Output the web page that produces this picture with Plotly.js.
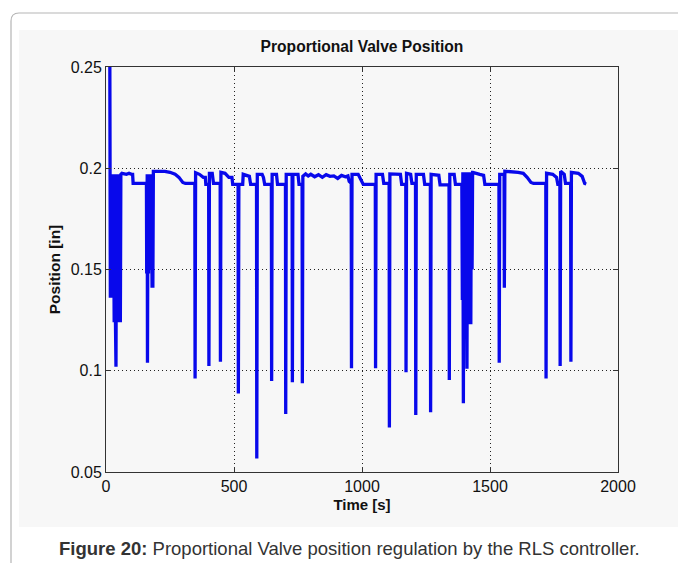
<!DOCTYPE html>
<html>
<head>
<meta charset="utf-8">
<script src="https://cdn.plot.ly/plotly-3.0.1.min.js"></script>
<style>
html,body{margin:0;padding:0;background:#fff;}
#chart{width:678px;height:563px;}
</style>
</head>
<body>
<div id="chart"></div>
<script>
// Time [s]
const timeS = [
15,17,19,22,24,27,29,32,34,37,39,41,44,46,49,51,54,56,58,
62,80,90,100,104,106,158,
159,161,162,164,166,168,170,172,175,177,180,182,183,185,
230,250,270,285,300,310,347,348,350,
365,380,388,390,401,402,404,
415,420,446,447,449,
465,480,492,495,516,517,519,
534,536,560,565,588,589,591,
610,615,620,646,647,649,
666,670,701,702,704,
727,728,730,
750,754,766,767,769,
780,790,800,815,830,845,860,875,890,905,920,935,945,950,958,959,961,
985,995,1005,1052,1053,1055,
1080,1085,1106,1107,1109,
1150,1155,1171,1172,1174,
1190,1195,1209,1210,1212,
1240,1245,1267,1268,1270,
1300,1305,1340,1341,1343,
1360,1365,1390,
1392,1394,1396,1398,1400,1402,1405,1407,1410,1412,1415,1417,1420,1422,1425,1427,1430,1432,
1433,1460,1475,1480,1535,1536,1538,
1555,1556,1558,
1610,1630,1645,1660,1670,1718,1719,1721,
1745,1760,1765,1773,1774,1776,
1790,1795,1815,1816,1818,
1845,1860,1870,1876
];
// Position [in]
const positionIn = [
0.25,0.136,0.197,0.136,0.197,0.140,0.197,0.124,0.197,0.124,0.102,0.197,0.124,0.197,0.124,0.197,0.157,0.124,0.197,
0.1975,0.197,0.1975,0.197,0.197,0.1925,0.1925,
0.148,0.197,0.104,0.197,0.148,0.197,0.150,0.197,0.168,0.197,0.141,0.197,0.141,0.1985,
0.1985,0.198,0.197,0.1955,0.193,0.1925,0.1925,0.0962,0.1978,
0.197,0.1955,0.1955,0.192,0.192,0.1023,0.1975,
0.1975,0.1925,0.1925,0.1045,0.198,
0.1975,0.1955,0.1955,0.192,0.192,0.0888,0.192,
0.192,0.197,0.196,0.192,0.192,0.0567,0.197,
0.197,0.1955,0.192,0.192,0.0949,0.197,
0.197,0.192,0.192,0.0786,0.197,
0.197,0.0943,0.197,
0.197,0.192,0.192,0.0938,0.196,
0.1972,0.1962,0.197,0.1958,0.1968,0.1955,0.1968,0.196,0.1962,0.195,0.1965,0.1958,0.1962,0.1935,0.1925,0.1012,0.197,
0.197,0.1945,0.192,0.192,0.1012,0.197,
0.197,0.1925,0.1925,0.072,0.1972,
0.197,0.192,0.192,0.0992,0.1975,
0.197,0.1925,0.1925,0.0781,0.197,
0.197,0.192,0.192,0.0795,0.197,
0.1965,0.1918,0.1918,0.0954,0.197,
0.197,0.192,0.192,
0.135,0.198,0.0839,0.198,0.130,0.198,0.140,0.198,0.101,0.198,0.130,0.198,0.123,0.198,0.123,0.198,0.150,0.198,
0.198,0.197,0.1965,0.192,0.192,0.104,0.197,
0.197,0.141,0.1985,
0.198,0.1975,0.1955,0.193,0.1925,0.1925,0.0962,0.1975,
0.197,0.1955,0.192,0.192,0.1023,0.1985,
0.197,0.1925,0.1925,0.1045,0.198,
0.1975,0.196,0.1925,0.1922
];
const xTicks = [0, 500, 1000, 1500, 2000];
const yTicks = [0.05, 0.1, 0.15, 0.2, 0.25];
const yTickText = ["0.05", "0.1", "0.15", "0.2", "0.25"];

const FONT = "Liberation Sans, Arial, Helvetica, sans-serif";
// plot area in pixels: x 106..618, y 67..472
const L = 106, R = 618, T = 67, B = 472;
const W = R - L, H = B - T;
const px = v => (v - L) / W;
const py = v => (B - v) / H;

const trace = {
  x: timeS, y: positionIn, type: "scatter", mode: "lines",
  line: {color: "rgb(8,8,235)", width: 3.3},
  hoverinfo: "skip", showlegend: false
};

const axisCommon = {
  showline: true, linecolor: "#333", linewidth: 1, mirror: "ticks",
  ticks: "inside", ticklen: 5, tickcolor: "#333", tickwidth: 1,
  showgrid: true, gridcolor: "#222", gridwidth: 1, griddash: "1px,3px",
  zeroline: false, automargin: false,
  tickfont: {family: FONT, size: 16, color: "#111"}
};

const layout = {
  width: 678, height: 563, autosize: false,
  margin: {l: L, r: 678 - R, t: T, b: 563 - B, pad: 0},
  paper_bgcolor: "#ffffff", plot_bgcolor: "#f7f7f7",
  font: {family: FONT, color: "#111"},
  title: {
    text: "<b>Proportional Valve Position</b>",
    font: {family: FONT, size: 15.6, color: "#111"},
    x: 0.5, xref: "paper", xanchor: "center",
    y: 1 - 47 / 563, yref: "container", yanchor: "middle"
  },
  xaxis: Object.assign({}, axisCommon, {
    range: [0, 2000], tickmode: "array", tickvals: xTicks,
    title: {text: "<b>Time [s]</b>", font: {family: FONT, size: 15, color: "#111"}, standoff: 5}
  }),
  yaxis: Object.assign({}, axisCommon, {
    range: [0.05, 0.25], tickmode: "array", tickvals: yTicks, ticktext: yTickText,
    title: {text: "<b>Position [in]</b>", font: {family: FONT, size: 15.5, color: "#111"}, standoff: 6}
  }),
  shapes: [
    {type: "rect", xref: "paper", yref: "paper", layer: "below",
     x0: px(19), x1: px(678), y0: py(527), y1: py(30),
     fillcolor: "#f7f7f7", line: {width: 0}},
    {type: "path", xref: "paper", yref: "paper", layer: "below",
     path: "M " + px(11) + " " + py(563) + " L " + px(11) + " " + py(21) +
           " Q " + px(11) + " " + py(13) + " " + px(19) + " " + py(13) +
           " L " + px(678) + " " + py(13),
     line: {color: "#b5b5b5", width: 1.2}}
  ],
  annotations: [
    {text: "<b>Figure 20:</b> Proportional Valve position regulation by the RLS controller.",
     xref: "paper", yref: "paper", x: px(349), y: py(548),
     xanchor: "center", yanchor: "middle", showarrow: false,
     font: {family: FONT, size: 18.5, color: "#333"}}
  ]
};

Plotly.newPlot("chart", [trace], layout, {displayModeBar: false, staticPlot: true});
</script>
</body>
</html>
